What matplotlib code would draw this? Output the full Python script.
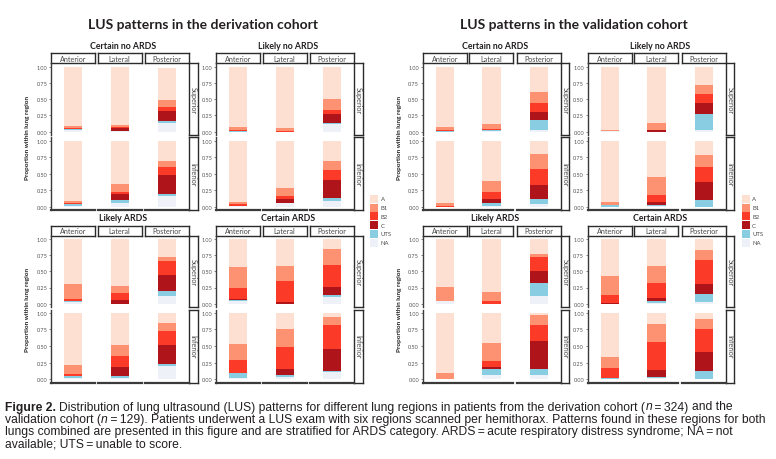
import matplotlib
matplotlib.use("Agg")
import matplotlib.pyplot as plt
from matplotlib import font_manager as fm
from matplotlib.font_manager import FontProperties

# ---------------- data ----------------
# bar order: group (Certain no ARDS, Likely no ARDS, Likely ARDS, Certain ARDS)
#            x row (Superior, Inferior) x column (Anterior, Lateral, Posterior)
groups = ["Certain no ARDS", "Likely no ARDS", "Likely ARDS", "Certain ARDS"]
rows = ["Superior", "Inferior"]
cols = ["Anterior", "Lateral", "Posterior"]
patterns = ["A", "B1", "B2", "C", "UTS", "NA"]

deriv_NA = [.02, .01, .13, .015, .067, .17, 0, 0, .118, .015, .067, .087,
            .02, 0, .12, .025, .025, .193, .036, 0, .107, .025, .036, .11]
deriv_UTS = [.02, 0, .04, .035, .033, .02, .01, 0, .012, 0, 0, .046,
             .02, 0, .07, .025, .025, .035, .02, 0, .03, .061, .02, .017]
deriv_C = [0, .04, .15, 0, .095, .287, 0, 0, .14, 0, .051, .277,
           0, .06, .25, 0, .128, .292, .014, .02, .127, .01, .091, .323]
deriv_B2 = [.02, .02, .065, .005, .025, .118, .02, .01, .06, .025, .052, .15,
            .035, .10, .22, .026, .177, .21, .18, .33, .336, .194, .34, .37]
deriv_B1 = [.03, .03, .10, .035, .13, .095, .035, .05, .17, .037, .117, .13,
            .225, .12, .06, .137, .165, .12, .31, .23, .24, .24, .273, .12]
deriv_A = [.91, .90, .50, .91, .65, .31, .935, .94, .50, .923, .713, .31,
           .70, .72, .28, .787, .48, .15, .44, .42, .16, .47, .24, .06]

valid_NA = [0, .01, .02, 0, .015, .046, .01, 0, .02, 0, .015, 0,
            .046, 0, .117, 0, .066, .066, 0, .015, .03, 0, .015, 0]
valid_UTS = [.015, .01, .165, 0, .052, .077, 0, 0, .257, .03, .015, .108,
             0, 0, .203, 0, .086, .086, 0, .021, .122, .015, .025, .117]
valid_C = [0, 0, .112, 0, .056, .215, 0, .03, .163, 0, .052, .266,
           0, 0, .177, 0, .036, .422, .015, .05, .153, 0, .097, .289]
valid_B2 = [.015, .02, .143, .02, .103, .232, 0, 0, .145, 0, .103, .231,
            0, .046, .229, 0, .086, .236, .112, .234, .37, .152, .421, .344]
valid_B1 = [.042, .083, .17, .042, .159, .23, .02, .103, .135, .042, .265, .18,
            .208, .132, .034, .10, .269, .154, .303, .264, .152, .163, .269, .15]
valid_A = [.928, .877, .39, .938, .615, .20, .97, .867, .28, .928, .55, .215,
           .746, .822, .24, .90, .457, .036, .57, .416, .173, .67, .173, .10]

cohorts = [
    ("LUS patterns in the derivation cohort",
     {"A": deriv_A, "B1": deriv_B1, "B2": deriv_B2, "C": deriv_C, "UTS": deriv_UTS, "NA": deriv_NA}),
    ("LUS patterns in the validation cohort",
     {"A": valid_A, "B1": valid_B1, "B2": valid_B2, "C": valid_C, "UTS": valid_UTS, "NA": valid_NA}),
]

colors = {"A": "#FEE0D2", "B1": "#FC9272", "B2": "#FB3A28", "C": "#B0141B",
          "UTS": "#89CDE3", "NA": "#EEF1F8"}
stack_order = ["NA", "UTS", "C", "B2", "B1", "A"]

# caption: segments (text, style); None = a word space
caption_lines = [
    [("Figure 2.", "b"), None, ("Distribution of lung ultrasound (LUS) patterns for different lung regions in patients from the derivation cohort (", "r"),
     ("n", "i"), ("\u2009=\u2009324)", "r"), None, ("and the", "r")],
    [("validation cohort (", "r"), ("n", "i"), ("\u2009=\u2009129).", "r"), None,
     ("Patients underwent a LUS exam with six regions scanned per hemithorax. Patterns found in these regions for both", "r")],
    [("lungs combined are presented in this figure and are stratified for ARDS category. ARDS\u2009=\u2009acute respiratory distress syndrome; NA\u2009=\u2009not", "r")],
    [("available; UTS\u2009=\u2009unable to score.", "r")],
]

# ---------------- fonts ----------------
entries = fm.fontManager.ttflist
names = {f.name for f in entries}
chart_font = "Lato" if "Lato" in names else "DejaVu Sans"
plt.rcParams["font.family"] = [chart_font, "DejaVu Sans"]


def wnum(w):
    if isinstance(w, (int, float)):
        return w
    return {"normal": 400, "regular": 400, "book": 400, "medium": 500,
            "semibold": 600, "demibold": 600, "bold": 700, "heavy": 800,
            "black": 900, "light": 300}.get(str(w).lower(), 400)


def caption_candidates():
    fams = ["Liberation Sans Narrow", "Liberation Sans", "Roboto Condensed",
            "Noto Sans", "Open Sans", "Roboto", "Arimo"]
    out = []
    for fam in fams:
        keys = {}
        for f in entries:
            if f.name == fam:
                keys.setdefault(str(f.stretch), []).append(f)
        for st, lst in keys.items():
            reg = [f for f in lst if f.style == "normal" and wnum(f.weight) == 400]
            bold = [f for f in lst if f.style == "normal" and wnum(f.weight) == 700]
            ital = [f for f in lst if f.style != "normal" and wnum(f.weight) == 400]
            if reg:
                r = reg[0].fname
                out.append({"r": r, "b": bold[0].fname if bold else r,
                            "i": ital[0].fname if ital else r})
    return out


W, H = 776, 460
fig = plt.figure(figsize=(W / 100, H / 100), dpi=100)
renderer = fig.canvas.get_renderer()


def ax_px(x0, y0, x1, y1):
    return fig.add_axes([x0 / W, 1 - y1 / H, (x1 - x0) / W, (y1 - y0) / H])


def fx(x):
    return x / W


def fy(y):
    return 1 - y / H


TXT = "#231F20"
AXC = "#3A3A3A"

col_off = [0, 46.7, 94]
col_w = 44
strip_h = 10
sup_top, sup_bot = 10, 81.5
inf_top, inf_bot = 84, 157
rstrip_x0, rstrip_x1 = 138, 146.5


def boxed_strip(x0, y0, x1, y1, label, rot=0):
    sa = ax_px(x0, y0, x1, y1)
    sa.set_xticks([])
    sa.set_yticks([])
    for s in sa.spines.values():
        s.set_linewidth(1.0)
        s.set_color("#2B2B2B")
    sa.text(0.5, 0.5, label, rotation=rot, ha="center", va="center",
            fontsize=5.2, color="#4A4A4A", transform=sa.transAxes)


def draw_group(gx, gy, gi, title, data):
    fig.text(fx(gx + 72), fy(gy - 7.5), title, ha="center", va="center",
             fontsize=6.3, fontweight="bold", color=TXT)
    for ci, cname in enumerate(cols):
        boxed_strip(gx + col_off[ci], gy, gx + col_off[ci] + col_w, gy + strip_h, cname)
    for ri, (rt, rb) in enumerate([(sup_top, sup_bot), (inf_top, inf_bot)]):
        boxed_strip(gx + rstrip_x0, gy + rt, gx + rstrip_x1, gy + rb, rows[ri], rot=270)
        for ci in range(3):
            idx = gi * 6 + ri * 3 + ci
            ax = ax_px(gx + col_off[ci], gy + rt, gx + col_off[ci] + col_w, gy + rb)
            ax.patch.set_alpha(0)
            bottom = 0.0
            for p in stack_order:
                v = data[p][idx]
                ax.bar(0, v, width=0.5, bottom=bottom, color=colors[p], linewidth=0)
                bottom += v
            ax.set_xlim(-0.6, 0.6)
            ax.set_ylim(-0.05, 1.05)
            ax.set_xticks([])
            for s in ["top", "right"]:
                ax.spines[s].set_visible(False)
            ax.spines["left"].set_visible(ci == 0)
            ax.spines["bottom"].set_visible(ri == 1)
            ax.spines["left"].set_linewidth(1.0)
            ax.spines["left"].set_color(AXC)
            ax.spines["bottom"].set_linewidth(1.6)
            ax.spines["bottom"].set_color(AXC)
            if ci == 0:
                ax.set_yticks([0, 0.25, 0.5, 0.75, 1.0])
                ax.set_yticklabels(["0.00", "0.25", "0.50", "0.75", "1.00"])
                ax.tick_params(axis="y", length=1.8, width=0.5, pad=0.8,
                               labelsize=4.0, colors="#555555")
            else:
                ax.set_yticks([])


group_offsets = [(0, 0), (165, 0), (0, 172.2), (165, 172.2)]
cohort_x = [51, 422.7]
title_cx = [203, 574]

for k, (ctitle, data) in enumerate(cohorts):
    bx = cohort_x[k]
    fig.text(fx(title_cx[k]), fy(25), ctitle, ha="center", va="center",
             fontsize=10, fontweight="bold", color=TXT)
    for gi, (dx, dy) in enumerate(group_offsets):
        draw_group(bx + dx, 54.3 + dy, gi, groups[gi], data)
    for yc in (137.7, 310):
        fig.text(fx(bx - 23), fy(yc), "Proportion within lung region", rotation=90,
                 ha="center", va="center", fontsize=4.6, fontweight="bold", color=TXT)
    lx = bx + 319
    for j, p in enumerate(patterns):
        yc = 200 + j * 8.7
        la = ax_px(lx, yc - 4, lx + 8, yc + 4)
        la.axis("off")
        la.add_patch(plt.Rectangle((0, 0), 1, 1, color=colors[p], transform=la.transAxes))
        fig.text(fx(lx + 10.5), fy(yc), p, ha="left", va="center",
                 fontsize=4.3, color="#4A4A4A")

# ---------------- caption ----------------


def cap_prop(files, style, size):
    if files:
        return FontProperties(fname=files[style], size=size)
    return FontProperties(family="DejaVu Sans", size=size,
                          weight="bold" if style == "b" else "normal",
                          style="italic" if style == "i" else "normal")


def seg_extent(files, txt, style, size):
    t = fig.text(0, 0, txt, fontproperties=cap_prop(files, style, size))
    e = t.get_window_extent(renderer)
    t.remove()
    return e.width, e.height


def space_width(files, size):
    return seg_extent(files, "a a", "r", size)[0] - seg_extent(files, "aa", "r", size)[0]


def line_width(files, segs, size):
    sp = space_width(files, size)
    return sum(sp if s is None else seg_extent(files, s[0], s[1], size)[0] for s in segs)


TARGET_W, MAX_H = 766.0, 12.2
best = None
for files in caption_candidates() or [None]:
    w10 = line_width(files, caption_lines[1], 10.0)
    h10 = seg_extent(files, "Patients lung (LUS)", "r", 10.0)[1]
    s = min(10.0 * TARGET_W / w10, 10.0 * MAX_H / h10)
    wres = w10 * s / 10.0
    if best is None or wres > best[0] + 1e-6:
        best = (wres, files, s)

_, cap_files, size = best
cap_y = [407.5, 420, 432.5, 445]
sp = space_width(cap_files, size)
for i, segs in enumerate(caption_lines):
    x = 5.0
    for s in segs:
        if s is None:
            x += sp
            continue
        fig.text(fx(x), fy(cap_y[i]), s[0], ha="left", va="center",
                 fontproperties=cap_prop(cap_files, s[1], size), color=TXT)
        x += seg_extent(cap_files, s[0], s[1], size)[0]

fig.savefig("out.png", dpi=100)
